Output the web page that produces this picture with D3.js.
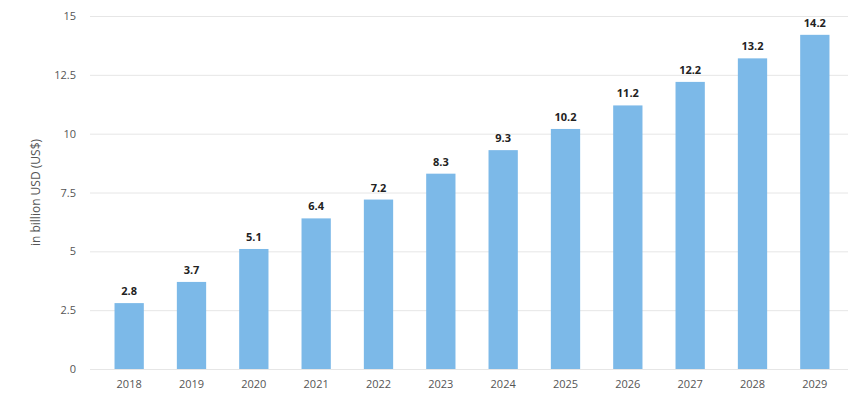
<!DOCTYPE html>
<html>
<head>
<meta charset="utf-8">
<script src="https://cdn.jsdelivr.net/npm/d3@7"></script>
<style>
  body { margin: 0; background: #fff; }
  svg { font-family: "Open Sans", "DejaVu Sans", sans-serif; }
</style>
</head>
<body>
<svg id="chart" width="856" height="415"></svg>
<script>
var years = ['2018', '2019', '2020', '2021', '2022', '2023', '2024', '2025', '2026', '2027', '2028', '2029'];
var values = [2.8, 3.7, 5.1, 6.4, 7.2, 8.3, 9.3, 10.2, 11.2, 12.2, 13.2, 14.2];
var yTicks = [0, 2.5, 5, 7.5, 10, 12.5, 15];
var yTickLabels = ['0', '2.5', '5', '7.5', '10', '12.5', '15'];

var svg = d3.select('#chart');
var plotLeft = 90, plotRight = 848, plotTop = 16, plotBottom = 369;

var x = d3.scaleBand().domain(years).range([98, 846]).paddingInner(0.53).paddingOuter(0.265);
var y = d3.scaleLinear().domain([0, 15]).range([plotBottom, plotTop]);

// grid
svg.append('g').selectAll('line').data(yTicks).enter().append('line')
    .attr('x1', plotLeft).attr('x2', plotRight)
    .attr('y1', function(d) { return y(d) + 0.5; })
    .attr('y2', function(d) { return y(d) + 0.5; })
    .attr('stroke', '#e6e6e6');

// y labels
svg.append('g').selectAll('text').data(yTicks).enter().append('text')
    .attr('x', 76).attr('y', function(d) { return y(d) + 4; })
    .attr('text-anchor', 'end').attr('font-size', 11).attr('fill', '#555')
    .text(function(d, i) { return yTickLabels[i]; });

svg.append('text')
    .attr('transform', 'translate(40,' + (plotTop + plotBottom) / 2 + ') rotate(-90)')
    .attr('text-anchor', 'middle').attr('font-size', 12).attr('fill', '#555')
    .text('in billion USD (US$)');

// bars
svg.append('g').selectAll('rect').data(values).enter().append('rect')
    .attr('x', function(d, i) { return x(years[i]); })
    .attr('width', x.bandwidth())
    .attr('y', function(d) { return y(d); })
    .attr('height', function(d) { return plotBottom - y(d); })
    .attr('fill', '#7cb9e8');

// value labels
svg.append('g').selectAll('text').data(values).enter().append('text')
    .attr('x', function(d, i) { return x(years[i]) + x.bandwidth() / 2; })
    .attr('y', function(d) { return y(d) - 8; })
    .attr('text-anchor', 'middle').attr('font-size', 11).attr('font-weight', 'bold').attr('fill', '#222')
    .text(function(d) { return d; });

// x labels
svg.append('g').selectAll('text').data(years).enter().append('text')
    .attr('x', function(d) { return x(d) + x.bandwidth() / 2; })
    .attr('y', 388)
    .attr('text-anchor', 'middle').attr('font-size', 11).attr('fill', '#555')
    .text(function(d) { return d; });
</script>
</body>
</html>
